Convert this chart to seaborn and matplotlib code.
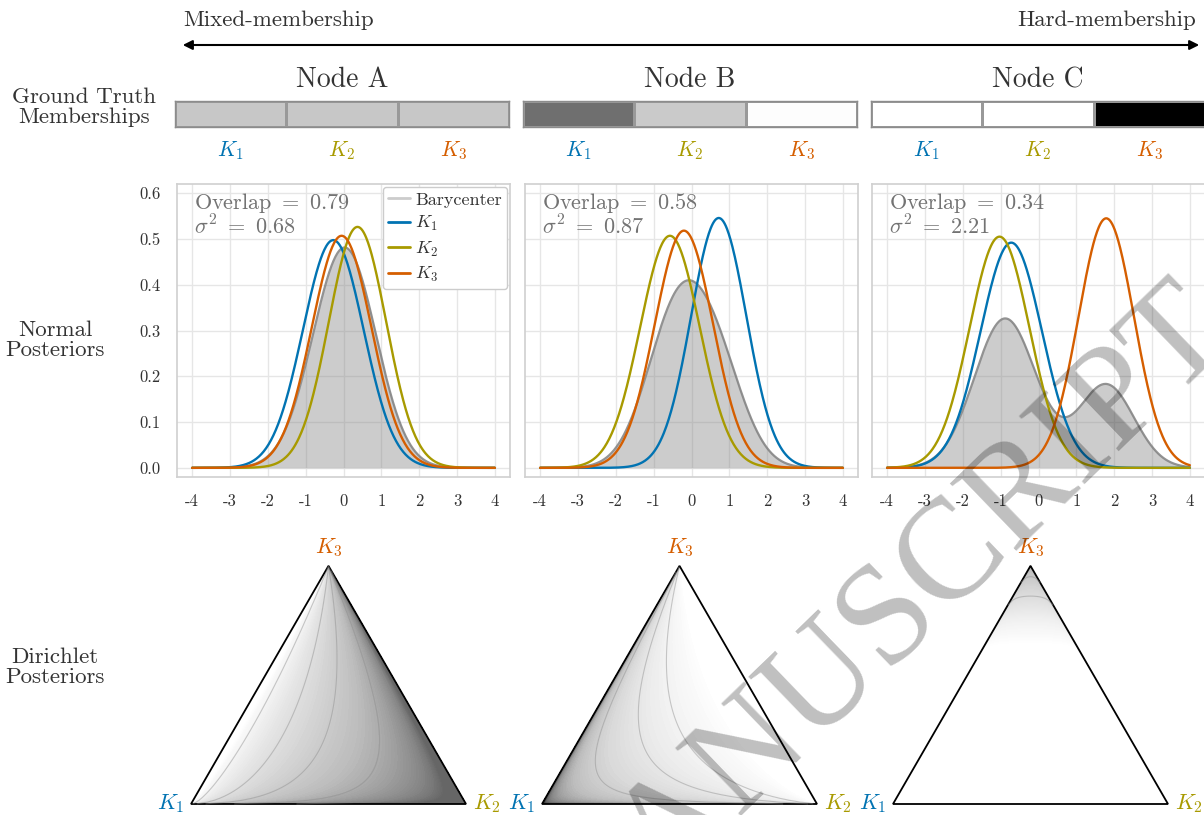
import math
import numpy as np
import pandas as pd
import matplotlib
matplotlib.use('Agg')
import matplotlib.pyplot as plt
import matplotlib.tri as mtri
from matplotlib.colors import Normalize
from matplotlib.lines import Line2D
from matplotlib.patches import FancyArrowPatch, Polygon
import seaborn as sns

sns.set_theme(style='whitegrid')
plt.rcParams['font.family'] = ['cmr10', 'DejaVu Serif']
plt.rcParams['mathtext.fontset'] = 'cm'
plt.rcParams['axes.unicode_minus'] = False
plt.rcParams['grid.color'] = '0.9'
plt.rcParams['axes.edgecolor'] = '0.82'
plt.rcParams['contour.negative_linestyle'] = 'solid'

# ---- data ----
nodes = ['Node A', 'Node B', 'Node C']
clusters = ['$K_1$', '$K_2$', '$K_3$']
k_colors = ['#0173b2', '#a89a00', '#d55e00']

# ground truth memberships (K1, K2, K3)
memb_a = [0.33, 0.33, 0.33]
memb_b = [0.64, 0.32, 0.02]
memb_c = [0.0, 0.0, 1.0]

# normal posteriors: mean and std per cluster
mu_a = [-0.27, 0.37, -0.05]
sd_a = [0.802, 0.758, 0.787]
mu_b = [0.72, -0.57, -0.20]
sd_b = [0.731, 0.787, 0.770]
mu_c = [-0.72, -1.03, 1.79]
sd_c = [0.811, 0.790, 0.732]

overlap = [0.79, 0.58, 0.34]
sigma2 = [0.68, 0.87, 2.21]

# dirichlet posteriors: concentration parameters
alpha_a = [0.7, 1.3, 0.85]
alpha_b = [1.2, 0.8, 0.85]
alpha_c = [0.9, 0.9, 8.0]

x_ticks = [-4, -3, -2, -1, 0, 1, 2, 3, 4]
y_ticks = [0.0, 0.1, 0.2, 0.3, 0.4, 0.5, 0.6]

memberships = [memb_a, memb_b, memb_c]
means = [mu_a, mu_b, mu_c]
stds = [sd_a, sd_b, sd_c]
alphas = [alpha_a, alpha_b, alpha_c]

# shading on log density: (lowest level, clip level, colour-scale top) per simplex
shade_range = [(-0.5, 1.6, 2.6), (0.3, 2.4, 2.8), (1.3, 5.0, 10.0)]
contour_levels = [[0.8, 1.2, 1.6, 2.3, 3.3], [1.75, 2.1, 2.8], [27.0, 62.0]]

fig = plt.figure(figsize=(12.04, 8.15), dpi=100)
txt = '0.2'

# top arrow
fig.add_artist(FancyArrowPatch((180 / 1204, 1 - 45 / 815), (1202 / 1204, 1 - 45 / 815),
                               transform=fig.transFigure, arrowstyle='<|-|>',
                               mutation_scale=14, lw=1.5, color='black'))
fig.text(183 / 1204, 1 - 20 / 815, 'Mixed-membership', fontsize=16.5, color=txt, ha='left', va='center')
fig.text(1196 / 1204, 1 - 20 / 815, 'Hard-membership', fontsize=16.5, color=txt, ha='right', va='center')

# row labels
fig.text(84 / 1204, 1 - 107 / 815, 'Ground Truth\nMemberships', fontsize=16.5, color=txt,
         ha='center', va='center', linespacing=1.05)
fig.text(55 / 1204, 1 - 340 / 815, 'Normal\nPosteriors', fontsize=16.5, color=txt,
         ha='center', va='center', linespacing=1.05)
fig.text(55 / 1204, 1 - 667 / 815, 'Dirichlet\nPosteriors', fontsize=16.5, color=txt,
         ha='center', va='center', linespacing=1.05)

bar_left = [175, 523, 871]
norm_left = [177, 525, 872]
tern_k1 = [191, 542, 893]

x = np.linspace(-4, 4, 500)

# triangle grid for the dirichlet densities
h = np.sqrt(3) / 2
corners_x = np.array([0.0, 1.0, 0.5])
corners_y = np.array([0.0, 0.0, h])
base_tri = mtri.Triangulation(corners_x, corners_y)
fine = mtri.UniformTriRefiner(base_tri).refine_triangulation(subdiv=7)
l3 = fine.y / h
l2 = fine.x - 0.5 * l3
l1 = 1 - l2 - l3
bary = np.clip(np.vstack([l1, l2, l3]), 1e-3, None)
bary = bary / bary.sum(axis=0)

for i in range(3):
    # ground truth membership bar
    axb = fig.add_axes([bar_left[i] / 1204, 1 - 127 / 815, 334 / 1204, 26 / 815])
    sns.heatmap(np.array([memberships[i]]), ax=axb, cmap='Greys', vmin=0, vmax=1,
                cbar=False, linewidths=0.8, linecolor='0.6', xticklabels=clusters,
                yticklabels=False)
    for s in axb.spines.values():
        s.set_visible(True)
        s.set_color('0.55')
        s.set_linewidth(1.0)
    axb.tick_params(axis='x', length=0, pad=9, labelsize=15.5)
    for lab, c in zip(axb.get_xticklabels(), k_colors):
        lab.set_color(c)
    axb.set_title(nodes[i], fontsize=20, color=txt, pad=10)

    # normal posteriors
    ax = fig.add_axes([norm_left[i] / 1204, 1 - 477 / 815, 333 / 1204, 293 / 815])
    rows = []
    pdfs = []
    for k in range(3):
        pdf = np.exp(-0.5 * ((x - means[i][k]) / stds[i][k]) ** 2) / (stds[i][k] * np.sqrt(2 * np.pi))
        pdfs.append(pdf)
        rows.append(pd.DataFrame({'x': x, 'density': pdf, 'cluster': clusters[k]}))
    df = pd.concat(rows, ignore_index=True)
    bary_pdf = np.mean(pdfs, axis=0)
    ax.fill_between(x, 0, bary_pdf, color='gray', alpha=0.4, lw=0)
    ax.plot(x, bary_pdf, color='gray', alpha=0.85, lw=1.6)
    sns.lineplot(data=df, x='x', y='density', hue='cluster', hue_order=clusters,
                 palette=k_colors, ax=ax, legend=False, lw=1.7)
    ax.set_xlim(-4.4, 4.4)
    ax.set_ylim(-0.02, 0.62)
    ax.set_xticks(x_ticks)
    ax.set_xticklabels([str(v) for v in x_ticks])
    ax.set_yticks(y_ticks)
    if i == 0:
        ax.set_yticklabels(['%.1f' % v for v in y_ticks])
    else:
        ax.set_yticklabels([])
    ax.set_xlabel('')
    ax.set_ylabel('')
    ax.tick_params(labelsize=12, colors=txt, pad=6)
    ax.text(0.05, 0.975, r'$\mathrm{Overlap}\ =\ %.2f$' % overlap[i] + '\n' + r'$\sigma^2\ =\ %.2f$' % sigma2[i],
            transform=ax.transAxes, fontsize=16, color='0.45', ha='left', va='top', linespacing=0.95)
    if i == 0:
        handles = [Line2D([], [], color='0.8', lw=2)] + [Line2D([], [], color=c, lw=2) for c in k_colors]
        leg = ax.legend(handles, ['Barycenter'] + clusters, loc='upper right', fontsize=13,
                        handlelength=1.2, handletextpad=0.3, borderaxespad=0.15,
                        labelspacing=0.35, borderpad=0.3, framealpha=1)
        for t in leg.get_texts():
            t.set_color(txt)

    # dirichlet posteriors (shaded by log density)
    a = alphas[i]
    lognorm = math.lgamma(sum(a)) - sum(math.lgamma(v) for v in a)
    logd = lognorm + sum((a[k] - 1) * np.log(bary[k]) for k in range(3))
    lo, hi, top = shade_range[i]
    axt = fig.add_axes([(tern_k1[i] - 27.5) / 1204, (815 - 812.25) / 815, 330 / 1204, 269.5 / 815])
    axt.tricontourf(fine, np.clip(logd, lo, hi), levels=np.linspace(lo, hi + 1e-4, 80), cmap='Greys',
                    norm=Normalize(lo, top), extend='both')
    axt.tricontour(fine, logd, levels=np.log(contour_levels[i]), colors='0.55', linewidths=0.8,
                   alpha=0.45, linestyles='solid')
    axt.add_patch(Polygon(np.column_stack([corners_x, corners_y]), closed=True,
                          fill=False, edgecolor='black', lw=1.3))
    axt.set_xlim(-0.1, 1.1)
    axt.set_ylim(-0.03, 0.95)
    axt.set_aspect('equal')
    axt.axis('off')
    axt.text(-0.025, 0.0, clusters[0], color=k_colors[0], fontsize=16, ha='right', va='center')
    axt.text(1.025, 0.0, clusters[1], color=k_colors[1], fontsize=16, ha='left', va='center')
    axt.text(0.5, h + 0.025, clusters[2], color=k_colors[2], fontsize=16, ha='center', va='bottom')

# watermark
fig.text(880 / 1204, 1 - 630 / 815, 'MANUSCRIPT', rotation=44, rotation_mode='anchor',
         fontsize=103, color='black', alpha=0.25, ha='center', va='center',
         family='Liberation Serif', zorder=100)

fig.savefig('out.png', dpi=100)
